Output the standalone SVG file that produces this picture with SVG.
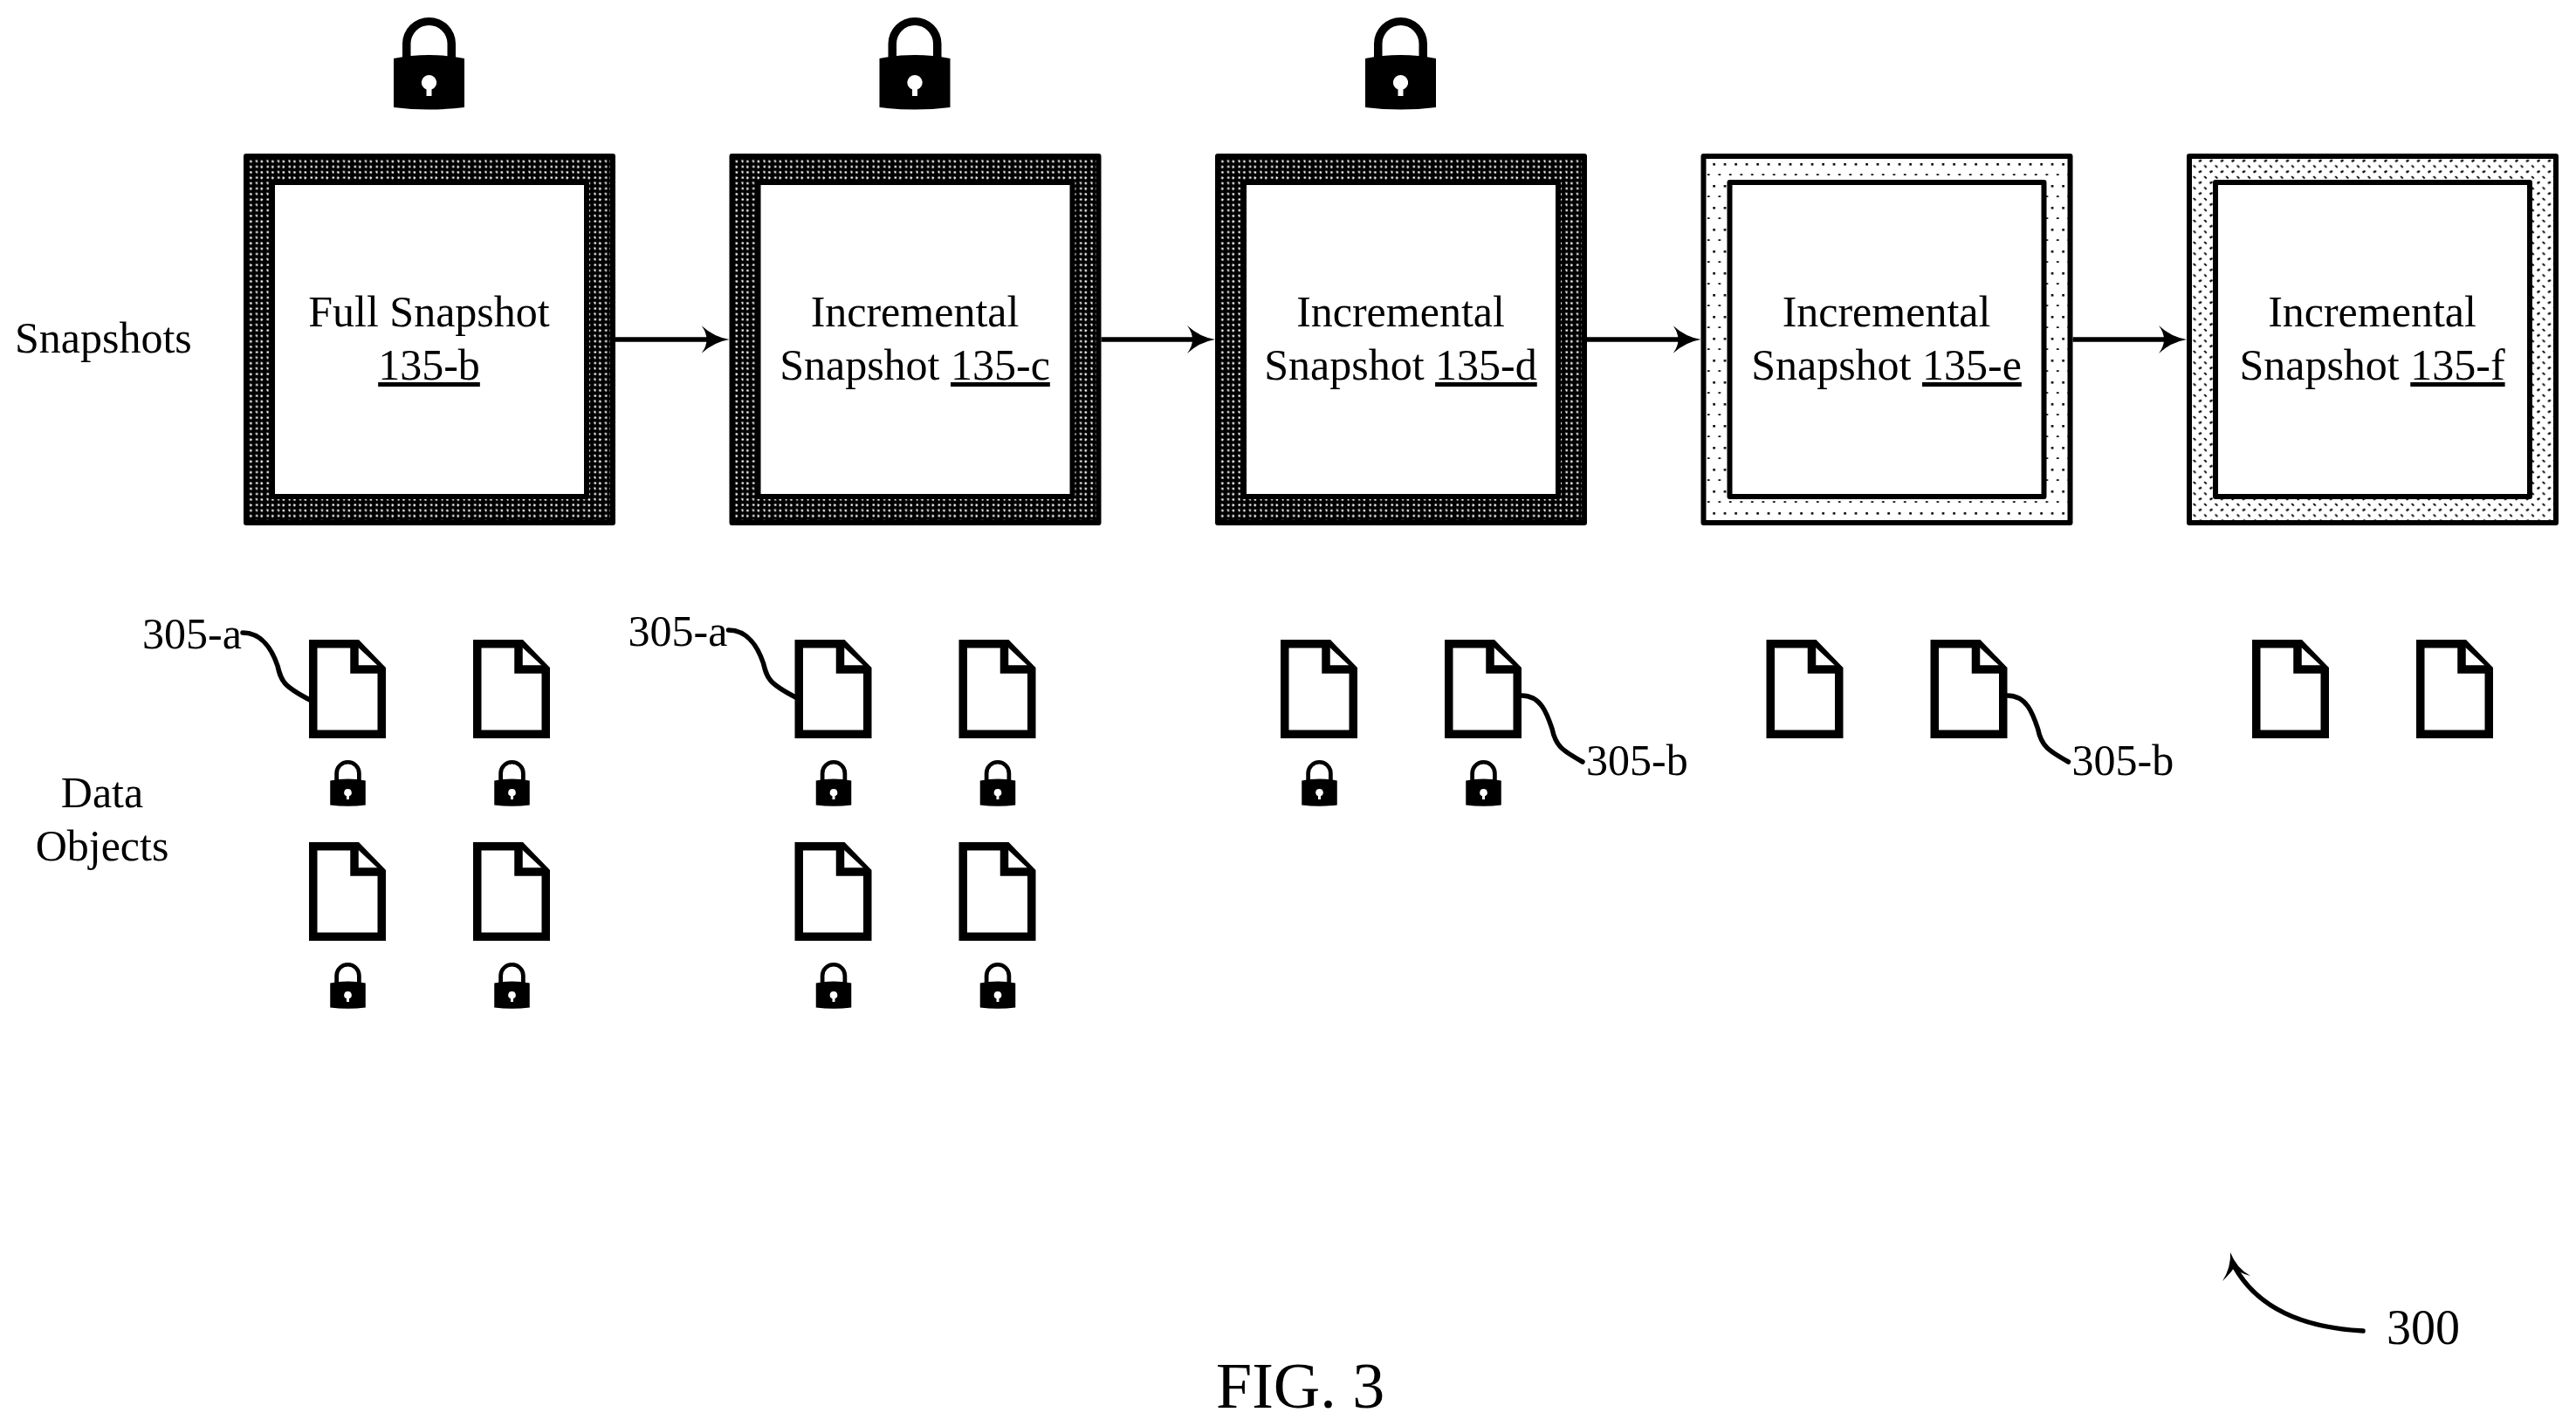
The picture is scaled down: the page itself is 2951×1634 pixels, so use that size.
<svg xmlns="http://www.w3.org/2000/svg" xmlns:xlink="http://www.w3.org/1999/xlink" width="2951" height="1634" viewBox="0 0 2951 1634">
<style>
text{font-family:"Liberation Serif","Times New Roman",serif;font-size:50px;fill:#000}
.c{text-anchor:middle}
.u{text-decoration:underline}
.outer,.inner{stroke:#000;stroke-width:6;stroke-linejoin:round}
.inner{fill:#fff}
.doc{fill:#fff;stroke:#000;stroke-width:9.5;stroke-linejoin:miter}
.conn{fill:none;stroke:#000;stroke-width:5.5}
.lead{fill:none;stroke:#000;stroke-width:5.5;stroke-linecap:round}
</style>
<defs>
<pattern id="dark" patternUnits="userSpaceOnUse" width="12.5" height="12.5" x="0" y="0">
<rect width="12.5" height="12.5" fill="#000"/>
<path d="M1.5,1.5 l2.5,0 l0,2 l-2.5,0z M7.5,1 l2.5,1.5 l-1.5,2 l-1.5,-1z M1,7.5 l2.5,0 l0,2.5 l-1.5,0z M7.5,7.5 l2.5,1 l-1,2 l-2,-1z" fill="#fff"/>
</pattern>
<pattern id="light" patternUnits="userSpaceOnUse" width="12.5" height="25" x="0" y="0">
<rect width="12.5" height="25" fill="#fff"/>
<rect x="1.3" y="11" width="2.6" height="2.6" fill="#000"/>
<rect x="7.5" y="23.2" width="2.6" height="2.6" fill="#000"/>
</pattern>
<pattern id="mid" patternUnits="userSpaceOnUse" width="12.5" height="12.5" x="0" y="0">
<rect width="12.5" height="12.5" fill="#fff"/>
<path d="M1,8 l3,-1.5 l1,2 l-3,1.5z M7,1.5 l1.5,-1 l2.5,2.5 l-1.5,1z" fill="#000"/>
</pattern>
<marker id="head" markerUnits="userSpaceOnUse" markerWidth="32" markerHeight="34" viewBox="0 0 32 34" refX="10" refY="17" orient="auto">
<path d="M0,1 Q14,14 32,17 Q14,20 0,33 Q12,17 0,1Z" fill="#000"/>
</marker>
<g id="doc">
<path class="doc" d="M4.75,4.75 H55 L83.25,34 V108.25 H4.75Z"/>
<path class="doc" fill="none" d="M52,4.75 V34 H83.25"/>
</g>
<g id="lock">
<path fill="#000" d="M-30.5,50 V30 A30.5,30 0 0 1 30.5,30 V50 H21 V30 A21,21 0 0 0 -21,30 V50Z"/>
<path fill-rule="evenodd" fill="#000" d="M-40.5,47 Q0,39 40.5,47 V103 Q0,108 -40.5,103Z M0,66 A8.5,8.5 0 0 0 -3,82.5 V90 H3 V82.5 A8.5,8.5 0 0 0 0,66Z"/>
</g>
</defs>

<g id="connectors">
<line class="conn" x1="705" y1="389" x2="813.5" y2="389" marker-end="url(#head)"/>
<line class="conn" x1="1261.5" y1="389" x2="1370" y2="389" marker-end="url(#head)"/>
<line class="conn" x1="1818" y1="389" x2="1926.5" y2="389" marker-end="url(#head)"/>
<line class="conn" x1="2374.5" y1="389" x2="2483" y2="389" marker-end="url(#head)"/>
<path class="lead" d="M2707,1525 C2650,1522 2590,1505 2560,1452"/>
<path fill="#000" d="M2555,1435 Q2562,1453 2578,1462 Q2566,1459 2559,1453 Q2556,1458 2546,1468 Q2556,1452 2555,1435Z"/>
<path class="lead" d="M278,725 C300,725 312,745 318,763 C322,780 324,786 355,802"/>
<path class="lead" d="M834.5,722 C856.5,722 868.5,742 874.5,760 C878.5,777 880.5,783 911.5,799"/>
<path class="lead" d="M1743,797 C1765,797 1772,817 1778,835 C1782,855 1790,860 1813,873"/>
<path class="lead" d="M2299.5,797 C2321.5,797 2328.5,817 2334.5,835 C2338.5,855 2346.5,860 2369.5,873"/>
</g>

<g id="snapshot-135-b" transform="translate(279,176)">
<rect class="outer" x="3" y="3" width="420" height="420" fill="url(#dark)"/>
<rect class="inner" x="33" y="33" width="360" height="360"/>
<text class="c" x="212.5" y="198">Full Snapshot</text>
<text class="c" x="212.5" y="259"><tspan class="u">135-b</tspan></text>
</g>
<g id="snapshot-135-c" transform="translate(835.5,176)">
<rect class="outer" x="3" y="3" width="420" height="420" fill="url(#dark)"/>
<rect class="inner" x="33" y="33" width="360" height="360"/>
<text class="c" x="212.5" y="198">Incremental</text>
<text class="c" x="212.5" y="259">Snapshot <tspan class="u">135-c</tspan></text>
</g>
<g id="snapshot-135-d" transform="translate(1392,176)">
<rect class="outer" x="3" y="3" width="420" height="420" fill="url(#dark)"/>
<rect class="inner" x="33" y="33" width="360" height="360"/>
<text class="c" x="212.5" y="198">Incremental</text>
<text class="c" x="212.5" y="259">Snapshot <tspan class="u">135-d</tspan></text>
</g>
<g id="snapshot-135-e" transform="translate(1948.5,176)">
<rect class="outer" x="3" y="3" width="420" height="420" fill="url(#light)"/>
<rect class="inner" x="33" y="33" width="360" height="360"/>
<text class="c" x="212.5" y="198">Incremental</text>
<text class="c" x="212.5" y="259">Snapshot <tspan class="u">135-e</tspan></text>
</g>
<g id="snapshot-135-f" transform="translate(2505,176)">
<rect class="outer" x="3" y="3" width="420" height="420" fill="url(#mid)"/>
<rect class="inner" x="33" y="33" width="360" height="360"/>
<text class="c" x="212.5" y="198">Incremental</text>
<text class="c" x="212.5" y="259">Snapshot <tspan class="u">135-f</tspan></text>
</g>

<g id="lock-b"><use xlink:href="#lock" href="#lock" transform="translate(491.5,20)"/></g>
<g id="lock-c"><use xlink:href="#lock" href="#lock" transform="translate(1048,20)"/></g>
<g id="lock-d"><use xlink:href="#lock" href="#lock" transform="translate(1604.5,20)"/></g>

<g id="label-snapshots"><text x="17" y="404">Snapshots</text></g>
<g id="label-data-objects">
<text class="c" x="117" y="925">Data</text>
<text class="c" x="117" y="986">Objects</text>
</g>

<g id="objects-b">
<use href="#doc" x="354" y="733"/><use href="#doc" x="542" y="733"/>
<use href="#doc" x="354" y="965"/><use href="#doc" x="542" y="965"/>
<use href="#lock" transform="translate(398.5,871) scale(.5)"/><use href="#lock" transform="translate(586.5,871) scale(.5)"/>
<use href="#lock" transform="translate(398.5,1103) scale(.5)"/><use href="#lock" transform="translate(586.5,1103) scale(.5)"/>
</g>
<g id="objects-c">
<use href="#doc" x="910.5" y="733"/><use href="#doc" x="1098.5" y="733"/>
<use href="#doc" x="910.5" y="965"/><use href="#doc" x="1098.5" y="965"/>
<use href="#lock" transform="translate(955,871) scale(.5)"/><use href="#lock" transform="translate(1143,871) scale(.5)"/>
<use href="#lock" transform="translate(955,1103) scale(.5)"/><use href="#lock" transform="translate(1143,1103) scale(.5)"/>
</g>
<g id="objects-d">
<use href="#doc" x="1467" y="733"/><use href="#doc" x="1655" y="733"/>
<use href="#lock" transform="translate(1511.5,871) scale(.5)"/><use href="#lock" transform="translate(1699.5,871) scale(.5)"/>
</g>
<g id="objects-e">
<use href="#doc" x="2023.5" y="733"/><use href="#doc" x="2211.5" y="733"/>
</g>
<g id="objects-f">
<use href="#doc" x="2580" y="733"/><use href="#doc" x="2768" y="733"/>
</g>

<g id="label-305-a-1"><text x="163" y="743">305-a</text></g>
<g id="label-305-a-2"><text x="719.5" y="740">305-a</text></g>
<g id="label-305-b-1"><text x="1817" y="888">305-b</text></g>
<g id="label-305-b-2"><text x="2373.5" y="888">305-b</text></g>
<g id="label-300"><text x="2734" y="1540" style="font-size:56px">300</text></g>
<g id="label-fig"><text x="1393" y="1613" style="font-size:74px">FIG. 3</text></g>
</svg>
